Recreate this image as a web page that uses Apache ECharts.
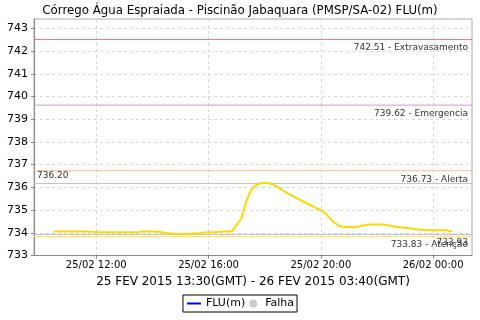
<!DOCTYPE html>
<html><head><meta charset="utf-8">
<script src="https://cdn.jsdelivr.net/npm/echarts@6/dist/echarts.min.js"></script>
<style>html,body{margin:0;padding:0;background:#fff}#c{width:480px;height:320px}</style>
</head><body><div id="c"></div>
<script>
// ---- data ----
const chartTitle = 'Córrego Água Espraiada - Piscinão Jabaquara (PMSP/SA-02) FLU(m)';
const periodLabel = '25 FEV 2015 13:30(GMT) - 26 FEV 2015 03:40(GMT)';
const seriesName = 'FLU(m)';
const failName = 'Falha';
const startTime = '2015-02-25T10:30:00Z'; // local time of first reading
const stepMinutes = 10;
const fluValues = [
  734.06, 734.06, 734.06, 734.06, 734.06, 734.06, 734.06, 734.06, 734.05,
  734.02, 734.02, 734.02, 734.02, 734.02, 734.02, 734.02, 734.02, 734.02, 734.03,
  734.06, 734.06, 734.06, 734.05, 734.02, 733.99, 733.97, 733.95, 733.96, 733.93,
  733.96, 733.97, 733.98, 734.01, 734.02, 734.02, 734.03, 734.06, 734.06, 734.06,
  734.35, 734.63, 735.35, 735.85, 736.08, 736.18, 736.20, 736.18, 736.10, 735.98,
  735.85, 735.72, 735.62, 735.50, 735.40, 735.30, 735.20, 735.08, 735.00, 734.85,
  734.62, 734.42, 734.30, 734.25, 734.25, 734.25, 734.27, 734.32, 734.35, 734.36,
  734.36, 734.36, 734.35, 734.30, 734.27, 734.24, 734.22, 734.20, 734.16, 734.14,
  734.12, 734.11, 734.11, 734.11, 734.11, 734.10, 734.06
];
const xMin = '2015-02-25T09:47:00Z';
const xMax = '2015-02-26T01:23:00Z';
const xTickTimes = ['2015-02-25T12:00:00Z', '2015-02-25T16:00:00Z', '2015-02-25T20:00:00Z', '2015-02-26T00:00:00Z'];
const xTickLabels = ['25/02 12:00', '25/02 16:00', '25/02 20:00', '26/02 00:00'];
const yMin = 733, yMax = 743.41, yStep = 1;
const thresholdValues = [742.51, 739.62, 736.73, 733.83];
const thresholdNames = ['Extravasamento', 'Emergencia', 'Alerta', 'Atenção'];
const thresholdColors = ['#f07878', '#e090e0', '#ffbf78', '#ffe050'];

// ---- build ----
const t0 = Date.parse(startTime);
const xMinTs = Date.parse(xMin), xMaxTs = Date.parse(xMax);
const seriesData = fluValues.map((v, i) => [t0 + i * stepMinutes * 60000, v]);
const tickTs = xTickTimes.map(s => Date.parse(s));
const labelMap = {};
tickTs.forEach((t, i) => labelMap[t] = xTickLabels[i]);

const font = 'DejaVu Sans';
const mlLabel = { fontFamily: font, fontSize: 9, color: '#333', distance: 4 };

const thresholdSeries = thresholdValues.map((v, i) => ({
  name: 'lim' + i, type: 'line', data: [[xMinTs, v], [xMaxTs, v]], symbol: 'none', z: 3,
  silent: true,
  lineStyle: { color: thresholdColors[i], width: 1 },
  itemStyle: { color: thresholdColors[i] },
  markLine: {
    silent: true, symbol: ['none', 'none'], animation: false,
    lineStyle: { color: 'rgba(255,255,255,0)', width: 1 },
    label: Object.assign({}, mlLabel, { show: true, position: 'insideEndBottom', formatter: v.toFixed(2) + ' - ' + thresholdNames[i] }),
    data: [{ yAxis: v }]
  }
}));

const chart = echarts.init(document.getElementById('c'), null, { renderer: 'canvas' });
chart.setOption({
  animation: false,
  backgroundColor: '#fff',
  title: {
    text: chartTitle, left: 'center', top: 0,
    textStyle: { fontFamily: font, fontSize: 11.8, fontWeight: 'normal', color: '#000' }
  },
  grid: { left: 34, right: 8, top: 19, bottom: 64.5, show: true, borderColor: '#aaa', borderWidth: 1 },
  legend: {
    bottom: 8, left: 'center',
    borderColor: '#000', borderWidth: 1, padding: [3, 3], itemGap: 4, itemWidth: 14, itemHeight: 8,
    textStyle: { fontFamily: font, fontSize: 11, color: '#000' },
    data: [
      { name: seriesName, itemStyle: { color: 'rgba(0,0,0,0)', borderWidth: 0 }, lineStyle: { color: '#0000ff', width: 2 } },
      { name: failName, icon: 'circle', itemStyle: { color: '#c0c0c0' } }
    ]
  },
  xAxis: {
    type: 'value', min: xMinTs, max: xMaxTs,
    name: periodLabel, nameLocation: 'middle', nameGap: 20,
    nameTextStyle: { fontFamily: font, fontSize: 12, color: '#000' },
    axisLine: { lineStyle: { color: '#888' } },
    axisTick: { show: true, length: 3, customValues: tickTs, lineStyle: { color: '#888' } },
    axisLabel: { customValues: tickTs, formatter: v => labelMap[v] || '', fontFamily: font, fontSize: 10, color: '#000', margin: 5, hideOverlap: false },
    splitLine: { show: true, lineStyle: { color: '#d8d8d8', type: [3, 3] } }
  },
  yAxis: {
    type: 'value', min: yMin, max: yMax, interval: yStep,
    axisLine: { show: true, lineStyle: { color: '#888' } },
    axisTick: { show: true, length: 3, lineStyle: { color: '#888' } },
    axisLabel: { formatter: v => Number.isInteger(v) ? String(v) : '', fontFamily: font, fontSize: 11, color: '#000', margin: 6, showMaxLabel: false },
    splitLine: { show: true, lineStyle: { color: '#d8d8d8', type: [3, 3] } }
  },
  series: [
    {
      name: seriesName, type: 'line', data: seriesData, symbol: 'none', smooth: false,
      lineStyle: { color: '#ffd800', width: 2 }, itemStyle: { color: '#ffd800' }, z: 5,
      markLine: {
        silent: true, symbol: ['none', 'none'], animation: false,
        lineStyle: { color: '#c4c4c4', type: 'solid', width: 1 },
        label: mlLabel,
        data: [
          { type: 'max', label: { position: 'insideStartTop', formatter: p => Number(p.value).toFixed(2), distance: 3 } },
          { type: 'min', label: { position: 'insideEndBottom', formatter: p => Number(p.value).toFixed(2) } }
        ]
      }
    },
    ...thresholdSeries,
    { name: failName, type: 'scatter', data: [], itemStyle: { color: '#c0c0c0' } }
  ]
});
</script></body></html>
